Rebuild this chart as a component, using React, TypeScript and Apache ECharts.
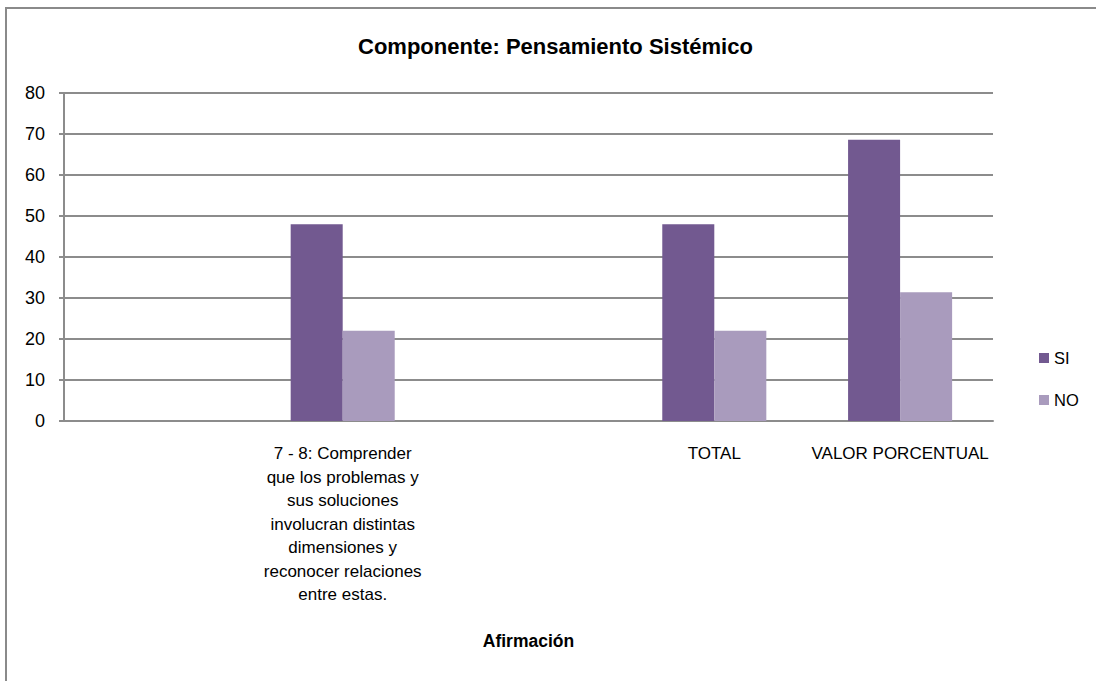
import React, { useEffect, useRef } from "react";
import * as echarts from "echarts";

const categories = [
  "",
  "7 - 8: Comprender\nque los problemas y\nsus soluciones\ninvolucran distintas\ndimensiones y\nreconocer relaciones\nentre estas.",
  "",
  "TOTAL",
  "VALOR PORCENTUAL",
];
const siValues = [null, 48, null, 48, 68.57];
const noValues = [null, 22, null, 22, 31.43];
const yTicks = { min: 0, max: 80, interval: 10 };

const FONT = "'Liberation Sans', 'DejaVu Sans', sans-serif";

export default function App() {
  const ref = useRef<HTMLDivElement>(null);
  useEffect(() => {
    if (!ref.current) return;
    const chart = echarts.init(ref.current, null, { renderer: "svg" });
    chart.setOption({
      animation: false,
      backgroundColor: "#ffffff",
      textStyle: { fontFamily: FONT },
      title: {
        text: "Componente: Pensamiento Sistémico",
        left: 353,
        top: 30,
        textStyle: { fontFamily: FONT, fontSize: 22, fontWeight: "bold", color: "#000" },
      },
      graphic: [
        {
          type: "rect",
          shape: { x: 6, y: 8, width: 1200, height: 800 },
          style: { fill: "none", stroke: "#8a8a8a", lineWidth: 2 },
          silent: true,
          z: 100,
        },
      ],
      legend: {
        orient: "vertical",
        left: 1034,
        top: 343,
        itemWidth: 10,
        itemHeight: 10,
        itemGap: 22,
        icon: "rect",
        textStyle: { fontFamily: FONT, fontSize: 16.5, color: "#000", lineHeight: 20 },
        data: ["SI", "NO"],
      },
      grid: { left: 64, right: 103, top: 93, bottom: 260, containLabel: false },
      xAxis: {
        type: "category",
        data: categories,
        name: "Afirmación",
        nameLocation: "middle",
        nameGap: 211,
        nameTextStyle: { fontFamily: FONT, fontSize: 17.5, fontWeight: "bold", color: "#000" },
        axisLine: { lineStyle: { color: "#8c8c8c", width: 2 } },
        axisTick: { show: false },
        axisLabel: {
          interval: 0,
          margin: 21,
          fontFamily: FONT,
          fontSize: 17,
          lineHeight: 23.5,
          color: "#000",
          align: "center",
        },
      },
      yAxis: {
        type: "value",
        min: yTicks.min,
        max: yTicks.max,
        interval: yTicks.interval,
        axisLine: { show: true, lineStyle: { color: "#8c8c8c", width: 2 } },
        axisTick: { show: true, length: 5, lineStyle: { color: "#8c8c8c", width: 2 } },
        splitLine: { lineStyle: { color: "#8c8c8c", width: 2 } },
        axisLabel: { fontFamily: FONT, fontSize: 18, color: "#000", margin: 19 },
      },
      series: [
        {
          name: "SI",
          type: "bar",
          data: siValues,
          barGap: "0%",
          barCategoryGap: "44%",
          itemStyle: { color: "#725990" },
        },
        {
          name: "NO",
          type: "bar",
          data: noValues,
          itemStyle: { color: "#a99bbd" },
        },
      ],
    });
    return () => chart.dispose();
  }, []);
  return (
    <div
      ref={ref}
      style={{ position: "fixed", left: 0, top: 0, width: 1096, height: 681 }}
    />
  );
}
